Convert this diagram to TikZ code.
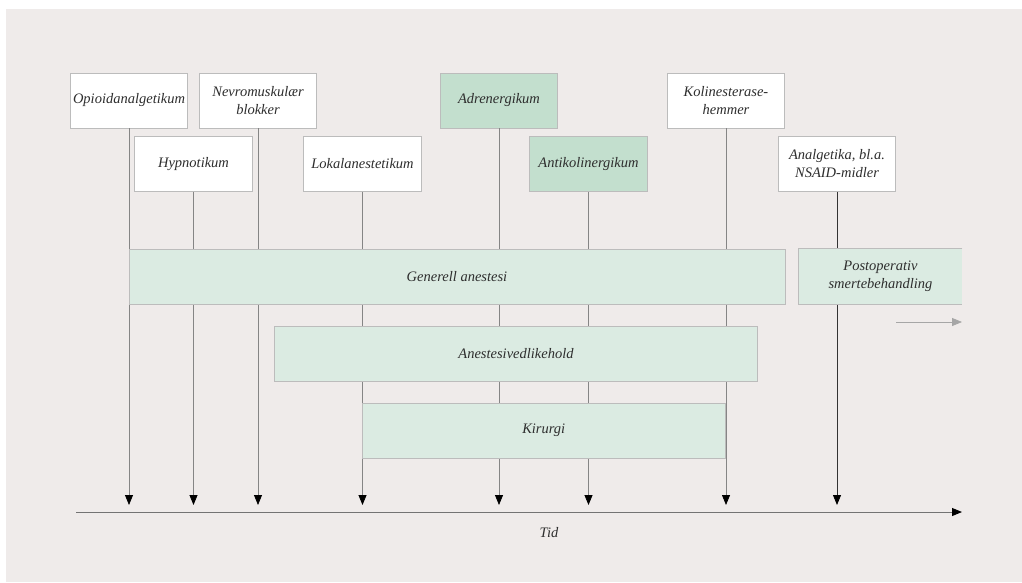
\documentclass[tikz,border=0pt]{standalone}
\usepackage{fontspec}
\setmainfont{Liberation Serif}
\usetikzlibrary{arrows.meta}
\definecolor{bgcol}{HTML}{EFEBEA}
\definecolor{boxline}{HTML}{BCBCBC}
\definecolor{paleg}{HTML}{DBEBE2}
\definecolor{darkg}{HTML}{C3DFCE}
\definecolor{txt}{HTML}{2E2E2E}
\definecolor{stemcol}{HTML}{858585}

\begin{document}
\begin{tikzpicture}[x=1pt, y=-1pt, >={Triangle[length=10pt,width=8pt,color=black]},
  drug/.style={draw=boxline, line width=0.8pt, fill=white, minimum width=117.5pt, minimum height=55pt, inner sep=1pt, align=center, text=txt, font=\fontsize{14.5}{18}\selectfont\itshape},
  band/.style={drug, fill=paleg},
  stem/.style={->, draw=stemcol, line width=0.8pt}]
  \useasboundingbox (0,0) rectangle (1022,582);
  \fill[bgcol] (6,9) rectangle (1022,582);

  % drugs, top row
  \node[drug] (opi)   at (129,100.5)   {Opioidanalgetikum};
  \node[drug] (nevro) at (258,100.5)   {Nevromuskulær\\blokker};
  \node[drug, fill=darkg] (adren) at (499,100.5) {Adrenergikum};
  \node[drug] (kolin) at (726,100.5)   {Kolinesterase-\\hemmer};
  % drugs, second row
  \node[drug] (hypno) at (193.5,164)   {Hypnotikum};
  \node[drug] (lokal) at (362.5,164)   {Lokalanestetikum};
  \node[drug, fill=darkg] (antikol) at (588.5,164) {Antikolinergikum};
  \node[drug] (analg) at (837,164)     {Analgetika, bl.a.\\NSAID-midler};

  % stems down to the time axis
  \foreach \n/\x in {opi/129, hypno/193.5, nevro/258, lokal/362.5, adren/499, antikol/588.5, kolin/726, analg/837}
    \coordinate (t-\n) at (\x,505);
  \foreach \n in {opi, hypno, nevro, lokal, adren, antikol, kolin}
    \draw[stem] (\n) -- (t-\n);
  \draw[stem, draw=black!80] (analg) -- (t-analg);

  % phases
  \node[band, minimum width=656pt] (gen) at (457,276.5) {Generell anestesi};
  \node[band, draw=none, minimum width=163pt] (post) at (880.5,276.5) {Postoperativ\\smertebehandling};
  \draw[boxline, line width=0.8pt] (post.north east) -- (post.north west) -- (post.south west) -- (post.south east);
  \node[band, minimum width=482.5pt] (vedl) at (516,353.75) {Anestesivedlikehold};
  \node[band, minimum width=363.5pt] (kir)  at (543.75,430.5) {Kirurgi};

  \coordinate (p0) at (896,322);
  \coordinate (p1) at (962,322);
  \draw[-{Triangle[length=10pt,width=8pt]}, draw=gray!70, line width=0.8pt] (p0) -- (p1);

  % time axis
  \coordinate (t0) at (76,512);
  \coordinate (t1) at (962,512);
  \draw[->, draw=gray!90!black, line width=0.9pt] (t0) -- (t1);
  \node[text=txt, font=\fontsize{14.5}{18}\selectfont\itshape] (tid) at (549,533) {Tid};
\end{tikzpicture}
\end{document}
